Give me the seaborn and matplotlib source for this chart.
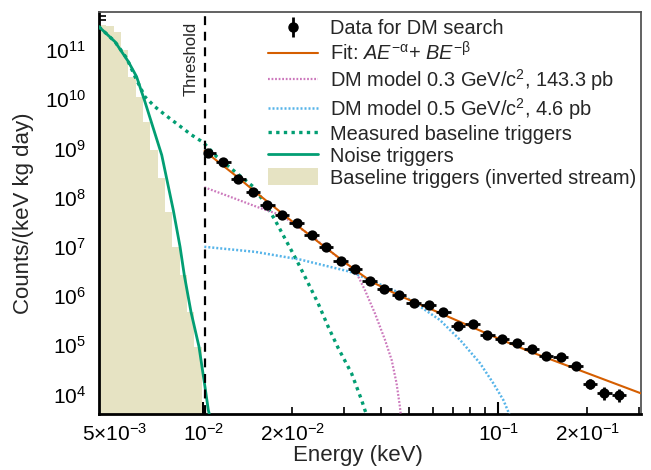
import numpy as np
import matplotlib
matplotlib.use("Agg")
import matplotlib.pyplot as plt
import seaborn as sns
from matplotlib.ticker import FixedLocator, FuncFormatter
from matplotlib.lines import Line2D
from matplotlib.patches import Patch

# ---------------- data ----------------
data_energy = [0.01040, 0.01169, 0.01314, 0.01471, 0.01647, 0.01852, 0.02073, 0.02330,
               0.02606, 0.02922, 0.03268, 0.03673, 0.04110, 0.04609, 0.05176, 0.05818,
               0.06513, 0.07318, 0.08185, 0.09180, 0.1032, 0.1154, 0.1297, 0.1452,
               0.1629, 0.1830, 0.2047, 0.2288, 0.2567]
data_rate = [8.14e8, 5.19e8, 2.38e8, 1.29e8, 7.14e7, 4.47e7, 2.99e7, 1.73e7,
             9.72e6, 5.19e6, 3.47e6, 2.04e6, 1.36e6, 1.03e6, 7.35e5, 6.53e5,
             4.64e5, 2.45e5, 2.68e5, 1.63e5, 1.35e5, 1.09e5, 8.2e4, 6.0e4,
             5.8e4, 3.81e4, 1.62e4, 1.05e4, 9.5e3]
data_logerr = [0.01] * 17 + [0.03] * 9 + [0.10, 0.13, 0.13]

fit_energy = [0.010095, 0.01311, 0.01497, 0.01941, 0.02585, 0.0327, 0.0372, 0.0458,
              0.0564, 0.1013, 0.1281, 0.3046]
fit_rate = [8.85e8, 2.56e8, 1.32e8, 3.79e7, 9.8e6, 3.37e6, 1.95e6, 1.04e6,
            6.1e5, 1.32e5, 7.4e4, 1.05e4]

dm03_energy = [0.01008, 0.01232, 0.01517, 0.01844, 0.0233, 0.0291, 0.0327, 0.0353,
               0.0382, 0.0413, 0.0435, 0.0452, 0.0464, 0.0468]
dm03_rate = [1.62e8, 1.04e8, 6.5e7, 4.35e7, 1.65e7, 5.6e6, 3.36e6, 1.32e6,
             4.4e5, 1.28e5, 5.0e4, 1.68e4, 5.6e3, 3.5e3]

dm05_energy = [0.01008, 0.01497, 0.0213, 0.0314, 0.0367, 0.0464, 0.0543, 0.0634,
               0.0742, 0.0867, 0.0962, 0.104, 0.1081, 0.1095]
dm05_rate = [1.0e7, 7.9e6, 5.5e6, 3.12e6, 2.11e6, 1.15e6, 6.1e5, 3.25e5,
             1.28e5, 4.3e4, 1.68e4, 7.7e3, 4.45e3, 3.5e3]

meas_energy = [0.00442, 0.00502, 0.00550, 0.00587, 0.00634, 0.00686, 0.00742, 0.00823,
               0.00913, 0.0100, 0.0111, 0.01477, 0.0162, 0.0175, 0.01917, 0.0207,
               0.0224, 0.0245, 0.0265, 0.0287, 0.0318, 0.0344, 0.0353, 0.0360]
meas_rate = [3.0e11, 1.47e11, 6.8e10, 2.87e10, 1.12e10, 7.0e9, 4.8e9, 3.0e9,
             1.87e9, 1.32e9, 6.8e8, 1.66e8, 7.6e7, 3.5e7, 1.27e7, 5.4e6,
             2.11e6, 7.1e5, 2.38e5, 8.6e4, 2.69e4, 7.7e3, 4.8e3, 3.5e3]

noise_energy = [0.00442, 0.00502, 0.00557, 0.00594, 0.00634, 0.00723, 0.00791, 0.00834,
                0.00862, 0.00908, 0.00967, 0.01013, 0.0104, 0.0106]
noise_rate = [3.0e11, 1.47e11, 5.8e10, 2.87e10, 8.9e9, 7.3e8, 5.6e7, 1.0e7,
              2.67e6, 4.8e5, 9.3e4, 1.44e4, 4.8e3, 3.0e3]

hist_edges = [0.00418, 0.004431, 0.004693, 0.004969, 0.005262, 0.005572, 0.005900,
              0.006248, 0.006616, 0.007006, 0.007419, 0.007855, 0.008318, 0.008807,
              0.009326, 0.009876]
hist_counts = [3.2e11, 3.2e11, 3.1e11, 2.36e11, 1.0e11, 2.87e10, 1.12e10, 3.49e9,
               9.3e8, 2.47e8, 5.2e7, 1.0e7, 2.66e6, 4.8e5, 9.3e4]

threshold = 0.0101
xlim = (4.42e-3, 0.3046)
ylim = (4.09e3, 5.83e11)

xlabels_major = {1e-2: r"$\mathdefault{10^{-2}}$", 1e-1: r"$\mathdefault{10^{-1}}$"}
xlabels_minor = {5e-3: r"5×$\mathdefault{10^{-3}}$",
                 2e-2: r"2×$\mathdefault{10^{-2}}$",
                 2e-1: r"2×$\mathdefault{10^{-1}}$"}

legend_labels = ["Data for DM search",
                 r"Fit: $AE^{\mathdefault{-\alpha}}$+ $BE^{\mathdefault{-\beta}}$",
                 r"DM model 0.3 GeV/c$^{\mathdefault{2}}$, 143.3 pb",
                 r"DM model 0.5 GeV/c$^{\mathdefault{2}}$, 4.6 pb",
                 "Measured baseline triggers",
                 "Noise triggers",
                 "Baseline triggers (inverted stream)"]

# ---------------- style ----------------
sns.set_theme(style="ticks")
plt.rcParams['font.family'] = ['Liberation Sans', 'DejaVu Sans']
plt.rcParams['mathtext.fontset'] = 'custom'
plt.rcParams['mathtext.rm'] = 'Liberation Sans'
plt.rcParams['mathtext.it'] = 'Liberation Sans:italic'
plt.rcParams['mathtext.bf'] = 'Liberation Sans:bold'

pal = sns.color_palette("colorblind")
c_green = pal[2]
c_orange = pal[3]
c_pink = pal[4]
c_blue = pal[9]
c_beige = "#e6e3c3"

fig = plt.figure(figsize=(6.51, 4.70), dpi=100)
ax = fig.add_axes([98.7 / 651, (470 - 413.5) / 470, (641 - 98.7) / 651, (413.5 - 12.3) / 470])
ax.set_xscale("log")
ax.set_yscale("log")

# histogram (inverted stream)
ax.stairs(hist_counts, hist_edges, fill=True, color=c_beige, baseline=1.0, zorder=1)

# curves
sns.lineplot(x=noise_energy, y=noise_rate, ax=ax, color=c_green, lw=2.0,
             sort=False, estimator=None, zorder=3)
sns.lineplot(x=meas_energy, y=meas_rate, ax=ax, color=c_green, lw=2.4,
             linestyle=(0, (1.0, 1.3)), sort=False, estimator=None, zorder=3)
sns.lineplot(x=dm03_energy, y=dm03_rate, ax=ax, color=c_pink, lw=1.6,
             linestyle=(0, (0.8, 0.8)), sort=False, estimator=None, zorder=3)
sns.lineplot(x=dm05_energy, y=dm05_rate, ax=ax, color=c_blue, lw=1.8,
             linestyle=(0, (0.8, 0.8)), sort=False, estimator=None, zorder=3)
sns.lineplot(x=fit_energy, y=fit_rate, ax=ax, color=c_orange, lw=1.5,
             sort=False, estimator=None, zorder=4)

# data points with errors
E = np.array(data_energy)
R = np.array(data_rate)
mids = np.sqrt(E[1:] * E[:-1])
lo_edges = np.concatenate([[threshold], mids])
hi_edges = np.concatenate([mids, [E[-1] ** 2 / mids[-1]]])
xerr = np.vstack([E - lo_edges, hi_edges - E])
le = np.array(data_logerr)
yerr = np.vstack([R - R / 10 ** le, R * 10 ** le - R])
ax.errorbar(E, R, xerr=xerr, yerr=yerr, fmt="none", ecolor="black",
            elinewidth=2.0, capsize=0, zorder=5)
sns.scatterplot(x=E, y=R, ax=ax, color="black", s=55, edgecolor="black",
                linewidth=0, zorder=6)

# threshold line
ax.axvline(threshold, color="black", lw=1.6, linestyle=(0, (4, 3)), zorder=4)
fig.text(190.8 / 651, (470 - 21.7) / 470, "Threshold", rotation=90,
         ha="center", va="top", fontsize=12)

ax.set_xlim(*xlim)
ax.set_ylim(*ylim)

# ticks
ax.xaxis.set_major_locator(FixedLocator(list(xlabels_major.keys())))
ax.xaxis.set_major_formatter(FuncFormatter(lambda v, p: next(
    (l for k, l in xlabels_major.items() if abs(v / k - 1) < 1e-6), "")))
minor_x = [m * 10.0 ** d for d in (-3, -2, -1) for m in range(2, 10)]
minor_x = [v for v in minor_x if xlim[0] <= v <= xlim[1]]
ax.xaxis.set_minor_locator(FixedLocator(minor_x))
ax.xaxis.set_minor_formatter(FuncFormatter(lambda v, p: next(
    (l for k, l in xlabels_minor.items() if abs(v / k - 1) < 1e-6), "")))

ax.tick_params(axis="both", which="both", direction="in", top=False, right=False,
               labelsize=15, colors="black")
ax.tick_params(axis="x", which="major", length=9, width=1.5, pad=7)
ax.tick_params(axis="x", which="minor", length=5, width=1.2, pad=7)
ax.tick_params(axis="y", which="major", length=9, width=1.5, pad=9)
ax.tick_params(axis="y", which="minor", length=5, width=1.2)

for side in ("left", "bottom"):
    ax.spines[side].set_linewidth(2.0)
    ax.spines[side].set_color("black")
for side in ("top", "right"):
    ax.spines[side].set_linewidth(1.3)
    ax.spines[side].set_color("#555555")

ax.set_xlabel("Energy (keV)", fontsize=16, labelpad=2)
ax.xaxis.set_label_coords(0.478, -0.078)
ax.set_ylabel("Counts/(keV kg day)", fontsize=16, labelpad=8)

# legend
h_data = ax.errorbar([np.nan], [np.nan], yerr=[1], fmt="o", color="black",
                     ms=6.5, elinewidth=2.0, capsize=0)
handles = [h_data,
           Line2D([], [], color=c_orange, lw=1.5),
           Line2D([], [], color=c_pink, lw=1.6, linestyle=(0, (0.8, 0.8))),
           Line2D([], [], color=c_blue, lw=1.8, linestyle=(0, (0.8, 0.8))),
           Line2D([], [], color=c_green, lw=2.4, linestyle=(0, (1.0, 1.3))),
           Line2D([], [], color=c_green, lw=2.0),
           Patch(facecolor=c_beige, edgecolor="none")]
fig.legend(handles, legend_labels, loc="upper left",
           bbox_to_anchor=(268 / 651, (470 - 19) / 470), frameon=False,
           fontsize=14.4, handlelength=2.5, handletextpad=0.6, labelspacing=0.14,
           borderpad=0, borderaxespad=0, handleheight=0.9)

fig.savefig("out.png", dpi=100)
